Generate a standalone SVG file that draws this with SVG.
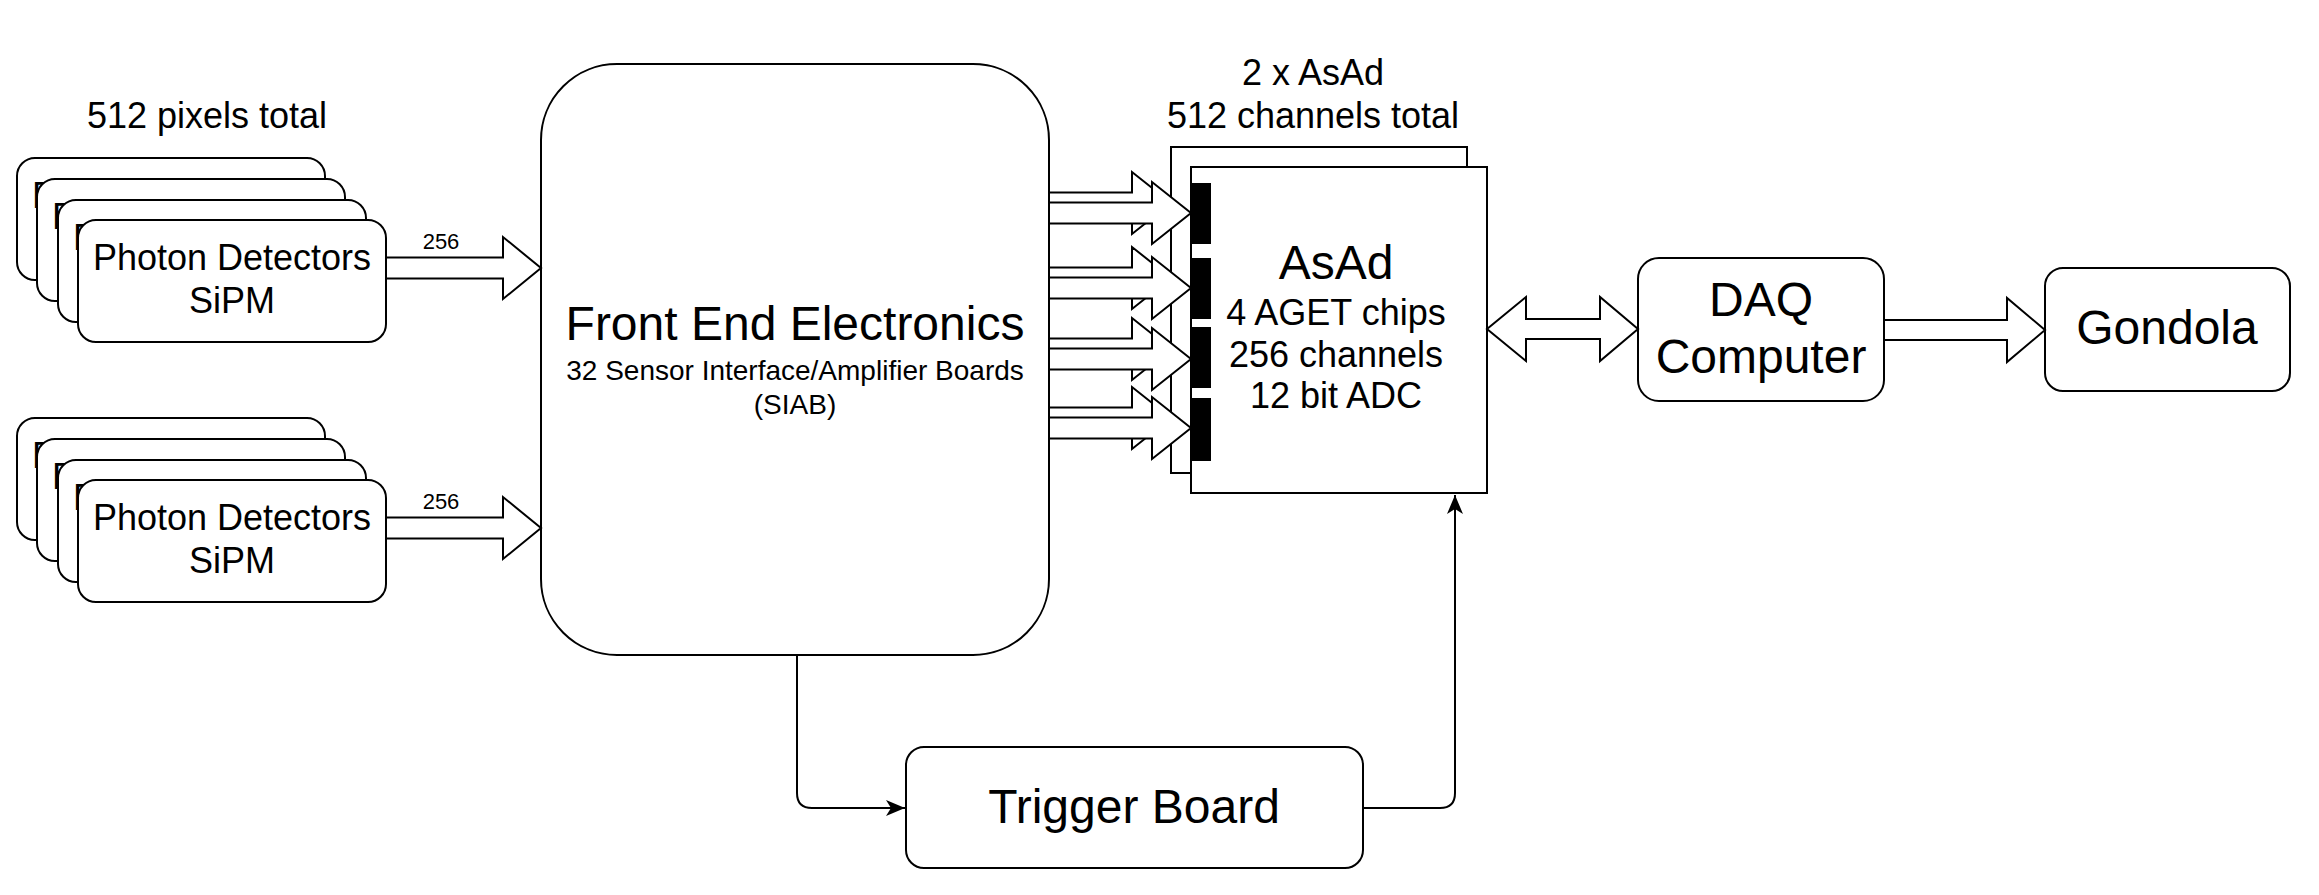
<svg xmlns="http://www.w3.org/2000/svg" width="2319" height="895" viewBox="0 0 2319 895">
<style>
.box{fill:#fff;stroke:#000;stroke-width:2}
.arr{fill:#fff;stroke:#000;stroke-width:2;stroke-linejoin:miter}
.bar{fill:#000;stroke:none}
.ln{fill:none;stroke:#000;stroke-width:2}
text{font-family:"Liberation Sans",Arial,sans-serif;fill:#000;text-anchor:middle}
.t36{font-size:36px}
.t48{font-size:48px}
.t28{font-size:28px}
.t22{font-size:22px}
</style>
<defs>
<marker id="ah" markerUnits="userSpaceOnUse" markerWidth="20" markerHeight="18" viewBox="0 0 20 18" refX="19" refY="9" orient="auto">
<path d="M0,1 L19,9 L0,17 L5,9 Z" fill="#000"/>
</marker>
</defs>
<rect width="2319" height="895" fill="#fff"/>

<text class="t36" x="207" y="128">512 pixels total</text>

<g id="pd-top">
<rect class="box" x="17" y="158" width="308" height="122" rx="18"/>
<text class="t36" x="171" y="208">Photon Detectors</text>
<rect class="box" x="37" y="179" width="308" height="122" rx="18"/>
<text class="t36" x="191" y="229">Photon Detectors</text>
<rect class="box" x="58" y="200" width="308" height="122" rx="18"/>
<text class="t36" x="212" y="250">Photon Detectors</text>
<rect class="box" x="78" y="220" width="308" height="122" rx="18"/>
<text class="t36" x="232" y="270">Photon Detectors</text>
<text class="t36" x="232" y="313">SiPM</text>
</g>

<g id="pd-bottom">
<rect class="box" x="17" y="418" width="308" height="122" rx="18"/>
<text class="t36" x="171" y="468">Photon Detectors</text>
<rect class="box" x="37" y="439" width="308" height="122" rx="18"/>
<text class="t36" x="191" y="489">Photon Detectors</text>
<rect class="box" x="58" y="460" width="308" height="122" rx="18"/>
<text class="t36" x="212" y="510">Photon Detectors</text>
<rect class="box" x="78" y="480" width="308" height="122" rx="18"/>
<text class="t36" x="232" y="530">Photon Detectors</text>
<text class="t36" x="232" y="573">SiPM</text>
</g>

<g id="fee">
<rect class="box" x="541" y="64" width="508" height="591" rx="76"/>
<text class="t48" x="795" y="340">Front End Electronics</text>
<text class="t28" x="795" y="380">32 Sensor Interface/Amplifier Boards</text>
<text class="t28" x="795" y="414">(SIAB)</text>
</g>

<g id="asad">
<text class="t36" x="1313" y="85">2 x AsAd</text>
<text class="t36" x="1313" y="128">512 channels total</text>
<rect class="box" x="1171" y="147" width="296" height="326"/>
<rect class="box" x="1191" y="167" width="296" height="326"/>
<text class="t48" x="1336" y="279">AsAd</text>
<text class="t36" x="1336" y="325">4 AGET chips</text>
<text class="t36" x="1336" y="367">256 channels</text>
<text class="t36" x="1336" y="408">12 bit ADC</text>
</g>

<g id="daq">
<rect class="box" x="1638" y="258" width="246" height="143" rx="21"/>
<text class="t48" x="1761" y="316">DAQ</text>
<text class="t48" x="1761" y="373">Computer</text>
</g>

<g id="gondola">
<rect class="box" x="2045" y="268" width="245" height="123" rx="18"/>
<text class="t48" x="2167" y="344">Gondola</text>
</g>

<g id="trigger">
<rect class="box" x="906" y="747" width="457" height="121" rx="18"/>
<text class="t48" x="1134" y="823">Trigger Board</text>
</g>

<g id="connectors">
<polygon class="arr" points="386,257.5 503,257.5 503,237 541,268 503,299 503,278.5 386,278.5"/>
<text class="t22" x="441" y="249">256</text>
<polygon class="arr" points="386,517.5 503,517.5 503,497 541,528 503,559 503,538.5 386,538.5"/>
<text class="t22" x="441" y="509">256</text>

<polygon class="arr" points="1049,192.5 1132,192.5 1132,172 1171,203 1132,234 1132,213.5 1049,213.5"/>
<polygon class="arr" points="1049,202.5 1152,202.5 1152,182 1191,213 1152,244 1152,223.5 1049,223.5"/>
<polygon class="arr" points="1049,267.5 1132,267.5 1132,247 1171,278 1132,309 1132,288.5 1049,288.5"/>
<polygon class="arr" points="1049,277.5 1152,277.5 1152,257 1191,288 1152,319 1152,298.5 1049,298.5"/>
<polygon class="arr" points="1049,338.5 1132,338.5 1132,318 1171,349 1132,380 1132,359.5 1049,359.5"/>
<polygon class="arr" points="1049,348.5 1152,348.5 1152,328 1191,359 1152,390 1152,369.5 1049,369.5"/>
<polygon class="arr" points="1049,407.5 1132,407.5 1132,387 1171,418 1132,449 1132,428.5 1049,428.5"/>
<polygon class="arr" points="1049,417.5 1152,417.5 1152,397 1191,428 1152,459 1152,438.5 1049,438.5"/>

<polygon class="arr" points="1487,329 1526,297 1526,319 1600,319 1600,297 1638,329 1600,361 1600,339 1526,339 1526,361"/>
<polygon class="arr" points="1884,320 2007,320 2007,298 2045,330 2007,362 2007,340 1884,340"/>

<path class="ln" d="M797,655 L797,793 Q797,808 812,808 L905,808" marker-end="url(#ah)"/>
<path class="ln" d="M1363,808 L1440,808 Q1455,808 1455,793 L1455,495" marker-end="url(#ah)"/>
</g>

<g id="asad-ports">
<rect class="bar" x="1191" y="183" width="20" height="61"/>
<rect class="bar" x="1191" y="258" width="20" height="61"/>
<rect class="bar" x="1191" y="327" width="20" height="61"/>
<rect class="bar" x="1191" y="398" width="20" height="63"/>
</g>
</svg>
